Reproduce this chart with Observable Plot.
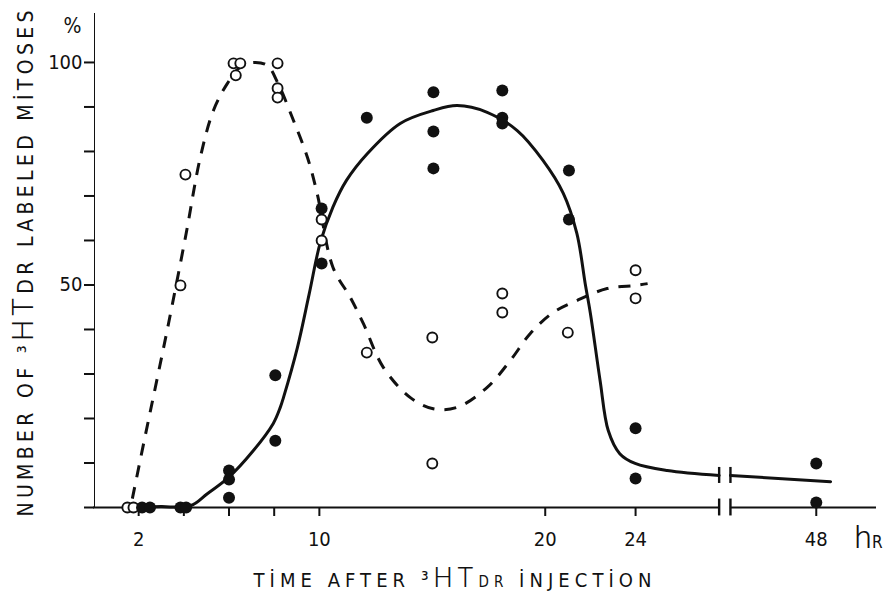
<!DOCTYPE html>
<html><head><meta charset="utf-8">
<script src="https://cdn.jsdelivr.net/npm/d3@7"></script>
<script src="https://cdn.jsdelivr.net/npm/@observablehq/plot@0.6"></script>
<style>
body{margin:0;background:#fff;}
</style>
</head><body><div id="chart"></div>
<script>
// ---- data ----
// open circles (dashed curve)
const openTime = [1.5, 1.77, 3.85, 4.07, 6.2, 6.5, 6.3, 8.15, 8.15, 8.15, 10.1, 10.1, 12.1, 15.0, 15.0, 18.1, 18.1, 21.0, 24, 24];
const openPct  = [0, 0, 49.9, 74.8, 99.8, 99.8, 97.1, 99.8, 94.2, 92.1, 64.7, 60, 34.8, 38.2, 9.9, 48.1, 43.8, 39.3, 53.3, 47];
// filled circles (solid curve)
const filledTime = [2.15, 2.5, 3.85, 4.1, 6, 6, 6, 8.05, 8.05, 10.1, 10.1, 12.1, 15.05, 15.05, 15.05, 18.1, 18.1, 18.1, 21.05, 21.05, 24, 24, 48, 48];
const filledPct  = [0, 0, 0, 0, 8.3, 6.3, 2.2, 29.7, 15, 67.2, 54.8, 87.6, 93.3, 84.5, 76.2, 93.7, 87.6, 86.3, 75.7, 64.7, 17.8, 6.5, 9.9, 1.1];
// hand-drawn dashed curve (open circles)
const dashedTime = [1.72, 2.31, 2.80, 3.32, 4.10, 4.73, 5.31, 5.93, 6.5, 7.1, 7.7, 8.15, 8.85, 9.47, 9.9, 10.6, 11.37, 11.95, 12.83, 14.03, 15.04, 16.1, 17.43, 18.45, 19.34, 20.35, 21.4, 22.74, 24.0, 25.6];
const dashedPct  = [2, 16.6, 28.5, 41.3, 61.5, 78.7, 89.2, 95.3, 99, 100, 99.3, 95.5, 87, 78.7, 70.6, 54, 47.2, 41.3, 31.5, 24.7, 22.2, 22.5, 27, 33, 39.1, 43.8, 46.5, 49.2, 49.9, 50.3];
// hand-drawn solid curve (filled circles)
const solidTime = [2.1, 3.0, 4.3, 5.04, 5.97, 7.08, 7.96, 8.27, 8.41, 9.03, 9.55, 10.04, 10.6, 11.2, 12.12, 13.58, 15.04, 16.1, 17.43, 18.76, 19.9, 20.8, 21.4, 21.77, 22.0, 22.43, 22.79, 23.3, 23.98, 28.2, 35.1, 36.6, 49.9];
const solidPct  = [0.2, 0.2, 0.4, 3.1, 6.7, 12.8, 18.9, 22.5, 24.7, 36.0, 48.0, 59.5, 67.5, 73.5, 79.5, 86.3, 89.2, 90.3, 88.8, 84.7, 78.0, 70.6, 61.6, 50.3, 43.6, 28.5, 17.3, 12.1, 9.9, 8.3, 7.2, 7.2, 5.8];
// axis break (between 24 and 48 hr); time after 24 hr is compressed
const breakStart = 35.1, breakEnd = 36.6;
const compressAfter = 24, compressFactor = 1 / 3, xMaxTime = 56;
// ticks
const xTicks = [2, 4, 6, 8, 10, 20, 24, 48];
const xTickLabels = ["2", "", "", "", "10", "20", "24", "48"];
const yTicks = [0, 10, 20, 30, 40, 50, 60, 70, 80, 90, 100];
const yTickLabels = ["", "", "", "", "", "50", "", "", "", "", "100"];
const yTitle = "NUMBER OF ³HTDR LABELED MİTOSES";
const xTitle = "TİME AFTER ³HTDR İNJECTİON";
const unitX = "hR";
const unitY = "%";

// broken time axis: linear up to 24 hr, compressed afterwards
const brokenAxis = t => t <= compressAfter ? t : compressAfter + (t - compressAfter) * compressFactor;

// ---- tables ----
const openPts = openTime.map((t, i) => ({t, pct: openPct[i]}));
const filledPts = filledTime.map((t, i) => ({t, pct: filledPct[i]}));
const dashed = dashedTime.map((t, i) => ({t, pct: dashedPct[i]}));
const solid = solidTime.map((t, i) => ({t, pct: solidPct[i], seg: t >= breakEnd ? 1 : 0}));
const xAxisSegs = [{from: 0, to: breakStart, at: 0}, {from: breakEnd, to: xMaxTime, at: 0}];
const curveAtBreak = t => solid.find(d => d.t === t).pct;
const breakBars = [
  {t: breakStart, lo: -1.9, hi: 1.9},
  {t: breakEnd, lo: -1.9, hi: 1.9},
  {t: breakStart, lo: curveAtBreak(breakStart) - 1.8, hi: curveAtBreak(breakStart) + 1.8},
  {t: breakEnd, lo: curveAtBreak(breakEnd) - 1.8, hi: curveAtBreak(breakEnd) + 1.8}
];
const xLab = new Map(xTicks.map((d, i) => [brokenAxis(d), xTickLabels[i]]));
const yLab = new Map(yTicks.map((d, i) => [d, yTickLabels[i]]));
const X = d => brokenAxis(d.t);

const FONT = "'DejaVu Sans Condensed', 'DejaVu Sans', sans-serif";
const THIN = "Roboto, Lato, 'Open Sans', sans-serif";

const chart = Plot.plot({
  width: 884,
  height: 593,
  marginLeft: 94,
  marginRight: 8,
  marginTop: 13,
  marginBottom: 86,
  style: {background: "white", color: "#111", fontFamily: FONT, fontSize: "20px", overflow: "visible"},
  x: {
    domain: [0, brokenAxis(xMaxTime)],
    range: [93, 876],
    ticks: xTicks.map(brokenAxis),
    tickFormat: d => xLab.get(d),
    tickSize: 9,
    tickPadding: 15,
    line: false,
    label: null
  },
  y: {
    domain: [0, 111],
    range: [507, 13],
    ticks: yTicks,
    tickFormat: d => yLab.get(d),
    tickSize: 10,
    tickPadding: 2,
    line: true,
    label: null
  },
  marks: [
    Plot.ruleY(xAxisSegs, {x1: d => brokenAxis(d.from), x2: d => brokenAxis(d.to), y: "at", stroke: "#111", strokeWidth: 2}),
    Plot.ruleX(breakBars, {x: X, y1: "lo", y2: "hi", stroke: "#111", strokeWidth: 2.4}),
    Plot.line(solid, {x: X, y: "pct", z: "seg", curve: "catmull-rom", stroke: "#111", strokeWidth: 3}),
    Plot.line(dashed, {x: X, y: "pct", curve: "catmull-rom", stroke: "#111", strokeWidth: 3, strokeDasharray: "12,10", strokeLinecap: "butt", ariaLabel: () => "dashed"}),
    Plot.dot(openPts, {x: X, y: "pct", r: 5, stroke: "#111", strokeWidth: 1.9, fill: "white"}),
    Plot.dot(filledPts, {x: X, y: "pct", r: 6, fill: "#111", stroke: "none"}),
    Plot.text([yTitle], {frameAnchor: "left", rotate: -90, dx: -68, dy: 3, textAnchor: "middle", lineAnchor: "middle", fontSize: 21, ariaLabel: () => "ytitle"}),
    Plot.text([xTitle], {frameAnchor: "bottom", dx: -33, dy: 79, textAnchor: "middle", lineAnchor: "bottom", fontSize: 20, ariaLabel: () => "xtitle"}),
    Plot.text([unitX], {frameAnchor: "bottom-right", dx: 6, dy: 40, textAnchor: "end", lineAnchor: "bottom", fontSize: 21, ariaLabel: () => "xunit"}),
    Plot.text([unitY], {frameAnchor: "top-left", dx: -22, dy: 19, textAnchor: "middle", lineAnchor: "bottom", fontSize: 21, ariaLabel: () => "yunit"})
  ]
});
document.getElementById("chart").append(chart);

// ---- styling touch-ups ----
const s = d3.select(chart);
s.selectAll('[aria-label^="x-axis"] line, [aria-label^="x-axis"] path, [aria-label^="y-axis"] line, [aria-label^="y-axis"] path')
  .attr("stroke-width", 2).attr("stroke", "#111");
s.selectAll('[aria-label^="x-axis"] text, [aria-label^="y-axis"] text')
  .attr("font-size", 20).attr("font-family", FONT).attr("fill", "#111");
s.selectAll('path[aria-label="dashed"], [aria-label="dashed"] path, [aria-label="dashed"]').attr("stroke-linecap", "butt");

function findText(label, str) {
  let node = chart.querySelector(`text[aria-label="${label}"]`) || chart.querySelector(`[aria-label="${label}"] text`);
  if (!node) node = Array.from(chart.querySelectorAll("text")).find(n => n.textContent === str);
  return node;
}
function rich(label, str, parts, length) {
  const node = findText(label, str);
  if (!node) return;
  const t = d3.select(node);
  t.text(null);
  for (const [txt, size, weight, fam] of parts) {
    const sp = t.append("tspan").attr("font-size", size).text(txt);
    if (weight) sp.attr("font-weight", weight);
    if (fam) sp.attr("font-family", fam);
  }
  if (length) t.attr("textLength", length).attr("lengthAdjust", "spacing");
}
const [yA, yB] = yTitle.split("³HT");
rich("ytitle", yTitle, [[yA, 21], ["³", 22], ["HT", 30, 300, THIN], [yB, 21]], 506);
const [xA, xB] = xTitle.split("³HTDR");
rich("xtitle", xTitle, [[xA, 20], ["³", 21], ["HT", 27, 300, THIN], ["DR", 15], [xB, 20]], 398);
rich("xunit", unitX, [[unitX[0], 32, 300, THIN], [unitX.slice(1), 17]]);
</script>
</body></html>
